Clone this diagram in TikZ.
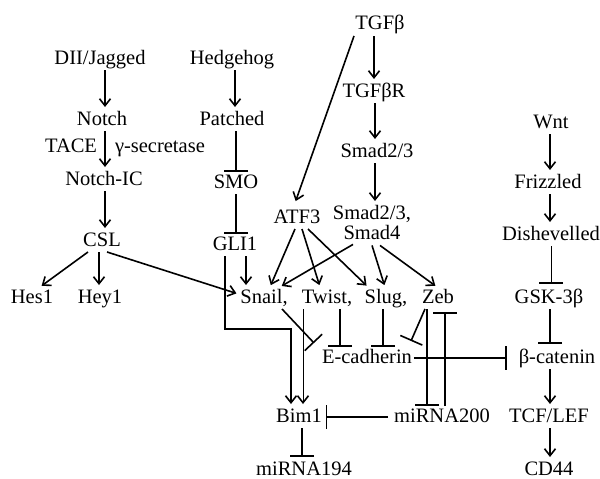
\documentclass[tikz,border=0pt]{standalone}
\usepackage{fontspec}
\setmainfont{Liberation Serif}
\usetikzlibrary{arrows.meta}
\tikzset{
  lbl/.style={anchor=base, inner sep=0pt, outer sep=2pt, text height=14pt, text depth=4pt},
  act/.style={line width=1.6pt, -{Straight Barb[length=7pt,width=11pt,line width=1.6pt]}, shorten >=2pt},
  inh/.style={line width=1.6pt, -{Bar[width=24pt,line width=1.6pt]}},
  thinline/.style={line width=1pt}
}
\begin{document}
\begin{tikzpicture}[x=1pt,y=-1pt, font=\fontsize{20.5}{20}\selectfont]
\fill[white] (0,0) rectangle (600,479);
\useasboundingbox (0,0) rectangle (600,479);
% Notch pathway
\node[lbl] (dii) at (100,64) {DII/Jagged};
\node[lbl] (notch) at (102,125) {Notch};
\node[lbl, anchor=base east] (tace) at (99,152) {TACE};
\node[lbl, anchor=base west] (gsec) at (113,152) {γ-secretase};
\node[lbl] (nic) at (104,185) {Notch-IC};
\node[lbl] (csl) at (102,246) {CSL};
\node[lbl] (hes) at (32,303) {Hes1};
\node[lbl] (hey) at (100,303) {Hey1};
% Hedgehog pathway
\node[lbl] (hh) at (232,64) {Hedgehog};
\node[lbl] (ptc) at (232,125) {Patched};
\node[lbl] (smo) at (236,188) {SMO};
\node[lbl] (gli) at (235,250) {GLI1};
% TGF pathway
\node[lbl] (tgfb) at (380,30) {TGFβ};
\node[lbl] (tgfbr) at (374,97) {TGFβR};
\node[lbl] (smad23) at (377,157) {Smad2/3};
\node[anchor=north, inner sep=0pt, outer sep=2pt, align=center] (smad4) at (372,203) {Smad2/3,\\Smad4};
\node[lbl] (atf3) at (297,223) {ATF3};
% transcription factors
\node[lbl] (snail) at (264,303) {Snail,};
\node[lbl] (twist) at (327,303) {Twist,};
\node[lbl] (slug) at (386,303) {Slug,};
\node[lbl] (zeb) at (438,303) {Zeb};
\node[lbl] (ecad) at (367,363) {E-cadherin};
\node[lbl] (bim) at (299,422) {Bim1};
\node[lbl] (mir200) at (442,422) {miRNA200};
\node[lbl] (mir194) at (304,475) {miRNA194};
% Wnt pathway
\node[lbl] (wnt) at (551,128) {Wnt};
\node[lbl] (fz) at (548,188) {Frizzled};
\node[lbl] (dsh) at (551,240) {Dishevelled};
\node[lbl] (gsk) at (549,303) {GSK-3β};
\node[lbl] (bcat) at (557,363) {β-catenin};
\node[lbl] (tcf) at (549,422) {TCF/LEF};
\node[lbl] (cd44) at (549,475) {CD44};

% Notch edges
\draw[act] ([xshift=5pt]dii.south) -- ([xshift=3pt]notch.north);
\draw[act] ([xshift=3pt]notch.south) -- ([xshift=1pt]nic.north);
\draw[act] ([xshift=1pt]nic.south) -- ([xshift=3pt]csl.north);
\draw[act] ([xshift=-14pt]csl.south) -- ([xshift=8pt]hes.north);
\draw[act] ([xshift=-3pt]csl.south) -- ([xshift=-1pt]hey.north);
\draw[act] ([xshift=5pt]csl.south) -- ([yshift=4pt]snail.west);
% Hedgehog edges
\draw[act] ([xshift=3pt]hh.south) -- ([xshift=3pt]ptc.north);
\draw[inh] ([xshift=4pt]ptc.south) -- (smo.north);
\draw[inh] (smo.south) -- ([xshift=1pt]gli.north);
\draw[act] ([xshift=11pt]gli.south) -- ([xshift=11pt]gli.south |- snail.north);
\draw[act] ([xshift=-10pt]gli.south) -- ++(0,73) -| ([xshift=-8pt]bim.north);
% TGF edges
\draw[act] ([xshift=-6pt]tgfb.south) -- (tgfbr.north);
\draw[act] ([xshift=1pt]tgfbr.south) -- ([xshift=-2pt]smad23.north);
\draw[act] ([xshift=-2pt]smad23.south) -- ([xshift=3pt]smad4.north);
\draw[act] ([xshift=-26pt]tgfb.south) -- ([xshift=-2pt,yshift=4pt]atf3.north);
\draw[act] ([xshift=-2pt]atf3.south) -- ([xshift=6pt]snail.north);
\draw[act] ([xshift=5pt]atf3.south) -- ([xshift=-7pt]twist.north);
\draw[act] ([xshift=11pt]atf3.south) -- ([xshift=-18pt]slug.north);
\draw[act] ([xshift=-19pt,yshift=-3pt]smad4.south) -- ([xshift=16pt]snail.north);
\draw[act] ([yshift=-4pt]smad4.south) -- ([xshift=-1pt]slug.north);
\draw[act] ([xshift=8pt,yshift=-4pt]smad4.south) -- ([xshift=-1pt]zeb.north);
% repression of E-cadherin
\draw[inh] ([xshift=18pt]snail.south) -- ([xshift=-53pt,yshift=4pt]ecad.north);
\draw[inh] ([xshift=13pt]twist.south) -- ([xshift=-27pt]ecad.north);
\draw[inh] ([xshift=-3pt]slug.south) -- ([xshift=16pt]ecad.north);
\draw[inh] ([xshift=-13pt]zeb.south) -- ([xshift=44pt,yshift=6pt]ecad.north);
\draw[inh] (ecad.east) -- ([xshift=-10pt]bcat.west);
% Bim1 / miRNA
\draw[act, line width=1pt] ([xshift=-24pt]twist.south) -- ([xshift=4pt]bim.north);
\draw[inh] ([xshift=-11pt]zeb.south) -- ([xshift=-15pt]mir200.north);
\draw[inh] ([xshift=3pt]mir200.north) -- ([xshift=7pt,yshift=-3pt]zeb.south);
\draw[inh] ([xshift=-4pt]mir200.west) -- ([xshift=2pt]bim.east);
\draw[inh] ([xshift=3pt]bim.south) -- ([xshift=-2pt,yshift=2pt]mir194.north);
% Wnt edges
\draw[act] ([xshift=-1pt]wnt.south) -- ([xshift=2pt]fz.north);
\draw[act] ([xshift=2pt]fz.south) -- ([xshift=-1pt]dsh.north);
\draw[inh, line width=1pt] (dsh.south) -- ([xshift=2pt,yshift=3pt]gsk.north);
\draw[inh] ([xshift=1pt]gsk.south) -- ([xshift=-7pt,yshift=3pt]bcat.north);
\draw[act] ([xshift=-7pt]bcat.south) -- ([xshift=1pt]tcf.north);
\draw[act] ([xshift=1pt]tcf.south) -- ([xshift=1pt]cd44.north);
\end{tikzpicture}
\end{document}
